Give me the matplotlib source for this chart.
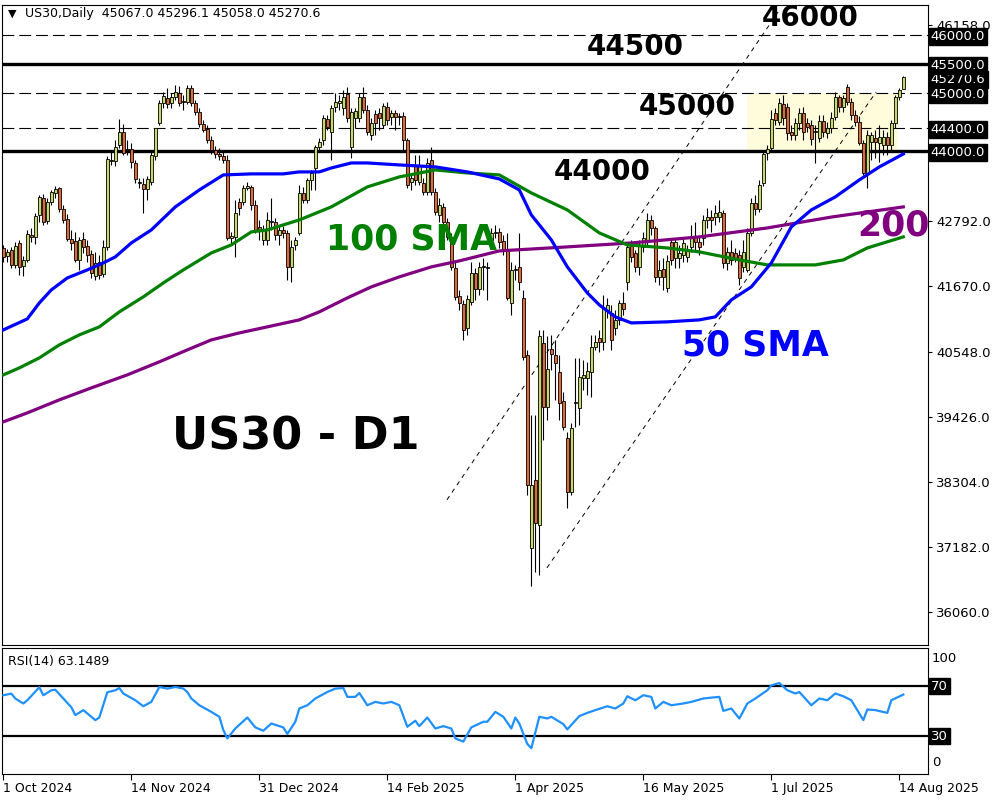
import matplotlib
matplotlib.use("Agg")
import matplotlib.pyplot as plt
import matplotlib.transforms as mtransforms
from matplotlib.patches import Rectangle
import numpy as np

plt.rcParams['font.family'] = ['DejaVu Sans']
plt.rcParams['lines.scale_dashes'] = False

# daily US30 candles, 1 Oct 2024 .. 14 Aug 2025 (bar index 0..225)
opens = [
    42331, 42194, 42297, 42039, 42417, 42022, 42125, 42555, 42521, 42899,
    43191, 42796, 43123, 43277, 43363, 43002, 42830, 42486, 42452, 42125,
    42486, 42366, 42228, 41850, 42091, 41884, 42349, 43845, 43828, 44103,
    44327, 44034, 44034, 43793, 43467, 43432, 43346, 43467, 43914, 44481,
    44825, 44911, 44825, 44929, 44997, 44860, 44843, 45081, 44825, 44671,
    44464, 44378, 44189, 44017, 43948, 43914, 43845, 42503, 42521, 43123,
    43123, 43363, 43381, 43071, 42693, 42469, 42469, 42779, 42779, 42555,
    42641, 42589, 42005, 42383, 42589, 43277, 43157, 43501, 43707, 44069,
    44189, 44550, 44327, 44757, 44825, 44739, 44980, 44069, 44567, 44567,
    44929, 44705, 44275, 44636, 44653, 44447, 44757, 44585, 44653, 44602,
    44602, 44189, 43467, 43759, 43467, 43449, 43295, 43845, 43295, 42899,
    43037, 42779, 42521, 41987, 41506, 41368, 40955, 41403, 41901, 41626,
    42022, 42005, 42469, 42589, 42607, 42452, 42297, 41385, 41953, 42005,
    41471, 40491, 37171, 38341, 37567, 40697, 39597, 40594, 40491, 40199,
    39700, 39064, 38135, 39665, 39579, 40095, 40095, 40199, 40629, 40784,
    40715, 41265, 41213, 40955, 41093, 41385, 41747, 42366, 42245, 42005,
    42349, 42469, 42813, 42675, 41833, 41970, 41643, 42435, 42159, 42159,
    42211, 42177, 42349, 42521, 42435, 42503, 42813, 42865, 42865, 42865,
    42933, 42073, 42263, 42245, 42211, 42005, 41953, 42589, 43105, 43002,
    43449, 43966, 44051, 44653, 44499, 44808, 44757, 44327, 44275, 44481,
    44653, 44481, 44447, 44327, 44223, 44516, 44309, 44395, 44585, 44929,
    44757, 45096, 44843, 44619, 44499, 44137, 43621, 44155, 44223, 44137,
    44103, 44241, 44103, 44481, 44929, 45067.0,
]
highs = [
    42383, 42314, 42349, 42435, 42469, 42194, 42641, 42675, 42933, 43243,
    43260, 43191, 43329, 43398, 43381, 43071, 42916, 42641, 42607, 42521,
    42607, 42469, 42297, 42263, 42211, 42469, 43914, 43983, 44189, 44550,
    44464, 44189, 44137, 43845, 43535, 43535, 43570, 44017, 44395, 44877,
    45014, 45081, 44997, 45135, 45118, 44963, 45135, 45135, 44877, 44739,
    44533, 44447, 44258, 44086, 44051, 44017, 43931, 42607, 43157, 43191,
    43415, 43467, 43415, 43157, 42813, 42727, 42951, 43191, 42847, 42710,
    42710, 42641, 42469, 42521, 43415, 43381, 43535, 43673, 44103, 44223,
    44619, 44619, 44791, 44997, 44963, 45049, 45096, 44739, 44739, 44997,
    45096, 44791, 44567, 44705, 44739, 44825, 44843, 44705, 44705, 44653,
    44671, 44223, 43587, 43931, 43931, 43535, 43879, 44069, 43363, 43191,
    43105, 42847, 42589, 42091, 41609, 41437, 41523, 42091, 41987, 42091,
    42159, 42091, 42675, 42727, 42675, 42555, 42589, 42091, 42039, 42589,
    41609, 40577, 39459, 39459, 40921, 40921, 40818, 40835, 40749, 40491,
    39855, 39167, 39321, 40439, 40439, 40405, 40371, 40835, 40835, 40921,
    41523, 41471, 41351, 41265, 41437, 41575, 42435, 42469, 42297, 42469,
    42607, 42933, 42899, 42710, 42125, 42159, 42211, 42503, 42503, 42383,
    42503, 42383, 42727, 42779, 42538, 42899, 43019, 42985, 43071, 43157,
    42985, 42349, 42469, 42331, 42297, 42469, 42675, 43191, 43243, 43501,
    44017, 44103, 44705, 44739, 44911, 44963, 44825, 44447, 44567, 44739,
    44757, 44567, 44533, 44447, 44619, 44619, 44499, 44671, 45014, 44963,
    44963, 45152, 44911, 44705, 44602, 44189, 44361, 44327, 44361, 44447,
    44361, 44327, 44533, 44963, 45081, 45296.1,
]
lows = [
    42091, 42091, 41987, 41987, 41867, 41850, 42091, 42435, 42400, 42779,
    42727, 42744, 43071, 43191, 42951, 42761, 42452, 42297, 42091, 41953,
    42245, 42091, 41815, 41781, 41798, 41833, 42297, 43759, 43742, 44051,
    43931, 43931, 43707, 43449, 43363, 42933, 43157, 43415, 43845, 44447,
    44739, 44739, 44739, 44877, 44774, 44705, 44808, 44774, 44619, 44413,
    44327, 44137, 43948, 43879, 43845, 43793, 42469, 42383, 42177, 42899,
    43071, 43329, 42985, 42589, 42469, 42383, 42383, 42641, 42469, 42383,
    42503, 41781, 41747, 42297, 42555, 43105, 43105, 43329, 43329, 44017,
    44103, 44361, 43845, 44671, 44705, 44619, 44499, 43879, 44395, 44499,
    44653, 44275, 44189, 44275, 44361, 44395, 44447, 44447, 44361, 44447,
    44017, 43363, 43329, 43415, 43415, 43243, 43243, 43243, 42899, 42779,
    42675, 42469, 41953, 41437, 41265, 40749, 40835, 41351, 41437, 41523,
    41609, 41437, 42435, 42503, 42331, 42211, 41437, 41179, 41781, 41609,
    40405, 38083, 36518, 36759, 36707, 39029, 39373, 40233, 39717, 39373,
    39201, 37859, 38083, 39253, 39287, 39889, 39803, 39769, 40577, 40543,
    40577, 41127, 40577, 40835, 41007, 41179, 41609, 42091, 41919, 41867,
    42263, 42383, 42555, 41747, 41695, 41609, 41575, 42039, 41987, 41987,
    42091, 42091, 42263, 42297, 42211, 42383, 42675, 42607, 42727, 42779,
    41987, 41953, 42039, 42091, 41695, 41919, 41919, 42538, 42899, 42951,
    43398, 43845, 44017, 44447, 44447, 44447, 44189, 44189, 44189, 44361,
    44189, 44327, 44103, 43793, 44155, 44241, 44223, 44309, 44533, 44671,
    44671, 44791, 44533, 44430, 44103, 43587, 43363, 43845, 43879, 43811,
    43931, 43931, 44017, 44395, 44877, 45058.0,
]
closes = [
    42177, 42263, 42039, 42366, 42005, 42125, 42572, 42521, 42882, 43209,
    42779, 43123, 43295, 43346, 43002, 42813, 42486, 42417, 42125, 42469,
    42349, 42211, 41901, 42073, 41867, 42349, 43862, 43828, 44069, 44327,
    43966, 44017, 43811, 43518, 43449, 43346, 43518, 43931, 44395, 44825,
    44946, 44808, 44929, 45014, 44825, 44843, 45081, 44825, 44671, 44464,
    44361, 44189, 44017, 43948, 43914, 43845, 42503, 42538, 42933, 43019,
    43363, 43398, 43071, 42641, 42641, 42641, 42813, 42796, 42555, 42641,
    42589, 42005, 42349, 42469, 43277, 43157, 43501, 43621, 44069, 44155,
    44567, 44413, 44739, 44843, 44860, 44929, 44567, 44671, 44688, 44929,
    44705, 44327, 44481, 44481, 44567, 44774, 44533, 44653, 44585, 44585,
    44189, 43415, 43535, 43501, 43759, 43295, 43793, 43295, 42951, 43071,
    42779, 42521, 42005, 41489, 41385, 40921, 41454, 41901, 41626, 42005,
    42005, 41987, 42589, 42607, 42435, 42297, 41471, 41953, 41970, 41747,
    40457, 38255, 38255, 37601, 40818, 39597, 40250, 40509, 40353, 39665,
    39253, 38135, 39235, 39683, 40113, 40147, 40216, 40629, 40715, 40715,
    41299, 41351, 40749, 41093, 41385, 41282, 42349, 42177, 42005, 42366,
    42503, 42813, 42675, 41833, 41953, 41833, 42108, 42125, 42435, 42245,
    42417, 42297, 42521, 42435, 42349, 42813, 42865, 42813, 42933, 42951,
    42073, 42263, 42125, 42159, 41815, 42263, 42589, 43105, 43002, 43415,
    43948, 44034, 44550, 44533, 44825, 44567, 44309, 44275, 44481, 44653,
    44327, 44413, 44206, 44344, 44516, 44327, 44395, 44567, 44929, 44757,
    44911, 44843, 44619, 44499, 44137, 43621, 44275, 44275, 44155, 44241,
    44241, 44103, 44481, 44929, 45049, 45270.6,
]

# moving averages at these bars
sma50_bars = [0, 6, 9, 12, 16, 21, 25, 28, 32, 37, 43, 49, 55, 62, 70, 74, 79, 82, 87,
              91, 99, 108, 116, 124, 129, 132, 137, 141, 146, 149, 153, 157, 166, 174,
              178, 182, 187, 192, 197, 202, 208, 214, 219, 225]
sma50_vals = [40921, 41110, 41385, 41609, 41815, 41953, 42073, 42177, 42417, 42641,
              43037, 43329, 43587, 43605, 43605, 43639, 43639, 43707, 43793, 43793,
              43759, 43725, 43639, 43518, 43329, 42899, 42469, 42005, 41557, 41351,
              41145, 41041, 41059, 41093, 41145, 41437, 41661, 42073, 42693, 42985,
              43209, 43501, 43725, 43948]
sma100_bars = [0, 4, 9, 14, 19, 24, 29, 35, 40, 45, 52, 57, 62, 66, 74, 82, 91, 99,
               108, 116, 124, 132, 141, 149, 156, 166, 174, 184, 191, 203, 210, 216, 225]
sma100_vals = [40147, 40267, 40439, 40663, 40835, 40973, 41231, 41489, 41729, 41953,
               42245, 42383, 42607, 42641, 42813, 43037, 43381, 43553, 43673, 43621,
               43587, 43277, 42985, 42589, 42383, 42331, 42263, 42125, 42039, 42039,
               42125, 42331, 42521]
sma200_bars = [0, 6, 14, 22, 31, 39, 46, 52, 59, 66, 74, 79, 86, 92, 99, 107, 114,
               124, 141, 157, 174, 191, 207, 225]
sma200_vals = [39339, 39493, 39717, 39923, 40147, 40371, 40577, 40749, 40869, 40973,
               41093, 41231, 41471, 41661, 41833, 42005, 42108, 42280, 42349, 42417,
               42521, 42675, 42862, 43037]

rsi_bars = [0, 2, 3, 5, 6, 9, 10, 12, 13, 15, 17, 18, 20, 22, 23, 24, 26, 28, 29, 30,
            33, 35, 37, 39, 41, 43, 45, 46, 47, 49, 52, 54, 55, 56, 58, 61, 63, 65, 67,
            69, 70, 71, 73, 74, 76, 78, 81, 83, 85, 86, 88, 89, 91, 93, 95, 97, 99, 101,
            103, 104, 106, 108, 110, 112, 113, 115, 117, 120, 121, 123, 125, 127, 128,
            129, 131, 132, 134, 136, 137, 140, 141, 144, 146, 148, 151, 153, 155, 156,
            158, 160, 162, 163, 165, 167, 170, 172, 175, 177, 179, 180, 182, 184, 186,
            188, 191, 192, 194, 196, 198, 199, 202, 204, 206, 208, 210, 212, 215, 216,
            218, 221, 222, 225]
rsi_vals = [62.6, 63.9, 60.0, 56.0, 58.6, 69.0, 62.6, 66.6, 67.0, 60.0, 53.0, 46.7, 50.7,
            45.4, 42.7, 44.8, 65.0, 66.6, 68.4, 64.0, 58.6, 53.8, 57.3, 69.2, 67.9, 69.2,
            67.9, 65.2, 60.0, 54.6, 49.3, 45.4, 34.8, 28.1, 36.0, 44.8, 36.9, 34.2, 40.0,
            37.9, 36.9, 31.6, 41.4, 52.0, 54.6, 60.0, 65.2, 67.9, 68.4, 61.3, 61.3, 64.4,
            54.6, 57.3, 56.0, 57.3, 54.6, 37.4, 42.2, 37.9, 44.8, 36.0, 37.9, 36.0, 28.1,
            25.5, 36.9, 41.4, 41.4, 49.3, 45.4, 36.0, 44.8, 40.0, 23.6, 20.2, 45.4, 44.0,
            45.4, 39.5, 35.3, 45.9, 48.5, 50.7, 53.8, 52.0, 56.0, 61.8, 58.6, 62.6, 61.3,
            52.0, 57.3, 54.6, 56.0, 57.3, 60.0, 60.7, 61.3, 50.1, 52.0, 44.0, 56.0, 60.0,
            66.6, 70.5, 72.4, 66.6, 64.0, 65.2, 54.6, 60.0, 58.6, 64.0, 61.8, 58.6, 42.7,
            51.2, 50.7, 48.5, 58.6, 63.1489]

solid_levels = [45500, 44000]
dashed_levels = [46000, 45000, 44400]
range_box_bars = [185.9, 223.7]
range_box_prices = [44000, 45000]
trend_upper_bars = [110.9, 193.7]
trend_upper_prices = [37997, 46391]
trend_lower_bars = [135.9, 218.2]
trend_lower_prices = [36827, 45015]

price_ticks = [36060, 37182, 38304, 39426, 40548, 41670, 42792, 43914, 45036, 46158]
hidden_ticks = [43914, 45036]
date_bars = [0, 32, 64, 96, 128, 160, 192, 224]
date_labels = ['1 Oct 2024', '14 Nov 2024', '31 Dec 2024', '14 Feb 2025',
               '1 Apr 2025', '16 May 2025', '1 Jul 2025', '14 Aug 2025']

bull_col = '#C9D86A'
bear_col = '#DB6A3C'

fig = plt.figure(figsize=(10, 8), dpi=100)
ax = fig.add_axes([0.002, 0.194, 0.926, 0.8])
ax_rsi = fig.add_axes([0.002, 0.0325, 0.926, 0.1575])

xlim = (-0.33, 231.17)
ax.set_xlim(*xlim)
ax.set_ylim(35503, 46514)

# range box
ax.add_patch(Rectangle((range_box_bars[0], range_box_prices[0]),
                       range_box_bars[1] - range_box_bars[0],
                       range_box_prices[1] - range_box_prices[0],
                       facecolor='#FFFCDC', edgecolor='none', zorder=0.5))

for lv in solid_levels:
    ax.axhline(lv, color='black', lw=2.4, zorder=1)
for lv in dashed_levels:
    ax.axhline(lv, color='black', lw=0.8, dashes=(8.5, 3.6), zorder=1)

ax.plot(trend_upper_bars, trend_upper_prices, color='black', lw=0.7, dashes=(3.2, 3.2), zorder=1)
ax.plot(trend_lower_bars, trend_lower_prices, color='black', lw=0.7, dashes=(3.2, 3.2), zorder=1)

# candles
o = np.array(opens, dtype=float)
h = np.array(highs, dtype=float)
l = np.array(lows, dtype=float)
c = np.array(closes, dtype=float)
idx = np.arange(len(c))
up = c >= o
lo_body = np.minimum(o, c)
hgt = np.abs(c - o)
ax.vlines(idx, l, h, color='black', lw=0.8, zorder=3)
ax.bar(idx[up], hgt[up], bottom=lo_body[up], width=0.75, color=bull_col,
       edgecolor='black', linewidth=0.6, zorder=4)
ax.bar(idx[~up], hgt[~up], bottom=lo_body[~up], width=0.75, color=bear_col,
       edgecolor='black', linewidth=0.6, zorder=4)

# moving averages
ax.plot(sma200_bars, sma200_vals, color='#800080', lw=2.3, zorder=5)
ax.plot(sma100_bars, sma100_vals, color='#008000', lw=2.3, zorder=5)
ax.plot(sma50_bars, sma50_vals, color='#0000FF', lw=2.3, zorder=5)

# price axis
ax.set_xticks([])
ax.yaxis.tick_right()
ax.set_yticks(price_ticks)
ax.set_yticklabels(['' if t in hidden_ticks else f'{t:.1f}' for t in price_ticks])
ax.tick_params(axis='y', length=3, width=0.8, pad=3, labelsize=9.5, colors='black')
for sp in ax.spines.values():
    sp.set_linewidth(0.8)

blend = mtransforms.blended_transform_factory(ax.transAxes, ax.transData)
blend = mtransforms.offset_copy(blend, fig=fig, y=-2, units='dots')
box_kw = dict(boxstyle='square,pad=0.15', fc='black', ec='black')
for lv in [closes[-1], 45500, 46000, 45000, 44400, 44000]:
    ax.text(1.003, lv, f'{lv:.1f}', transform=blend, color='white', fontsize=9.5,
            va='center', ha='left', bbox=box_kw, clip_on=False, zorder=6)

# annotations
big = dict(fontweight='bold', ha='center', va='center')
fig.text(0.810, 1 - 18 / 800, '46000', fontsize=20, color='black', **big)
fig.text(0.635, 1 - 47 / 800, '44500', fontsize=20, color='black', **big)
fig.text(0.687, 1 - 107 / 800, '45000', fontsize=20, color='black', **big)
fig.text(0.602, 1 - 172 / 800, '44000', fontsize=20, color='black', **big)
fig.text(0.412, 1 - 240 / 800, '100 SMA', fontsize=25, color='#008000', **big)
fig.text(0.893, 1 - 226 / 800, '200', fontsize=25, color='#800080', **big)
fig.text(0.755, 1 - 345 / 800, '50 SMA', fontsize=25, color='#0000FF', **big)
fig.text(0.296, 1 - 437 / 800, 'US30 - D1', fontsize=32, color='black', **big)

fig.text(0.008, 1 - 14 / 800, '▼', fontsize=8, va='center', ha='left')
fig.text(0.025, 1 - 14 / 800,
         f'US30,Daily  {opens[-1]:.1f} {highs[-1]:.1f} {lows[-1]:.1f} {closes[-1]:.1f}',
         fontsize=9, va='center', ha='left')

# RSI panel
ax_rsi.set_xlim(*xlim)
ax_rsi.set_ylim(-0.4, 100.4)
ax_rsi.axhline(70, color='black', lw=1.6, zorder=1)
ax_rsi.axhline(30, color='black', lw=1.6, zorder=1)
ax_rsi.plot(rsi_bars, rsi_vals, color='#1E90FF', lw=1.6, zorder=3)
ax_rsi.set_yticks([])
ax_rsi.set_xticks(date_bars)
ax_rsi.set_xticklabels(date_labels, ha='left', fontsize=9)
ax_rsi.tick_params(axis='x', length=4, width=0.8, pad=1.5)
for sp in ax_rsi.spines.values():
    sp.set_linewidth(0.8)
rblend = mtransforms.blended_transform_factory(ax_rsi.transAxes, ax_rsi.transData)
for lv in [70, 30]:
    ax_rsi.text(1.003, lv, f'{lv}', transform=rblend, color='white', fontsize=9.5,
                va='center', ha='left', bbox=box_kw, clip_on=False, zorder=6)
fig.text(0.932, 1 - 659 / 800, '100', fontsize=9.5, va='center', ha='left')
fig.text(0.932, 1 - 763 / 800, '0', fontsize=9.5, va='center', ha='left')
fig.text(0.008, 1 - 661 / 800, f'RSI(14) {rsi_vals[-1]:.4f}', fontsize=9,
         va='center', ha='left')

fig.savefig('out.png', dpi=100)
